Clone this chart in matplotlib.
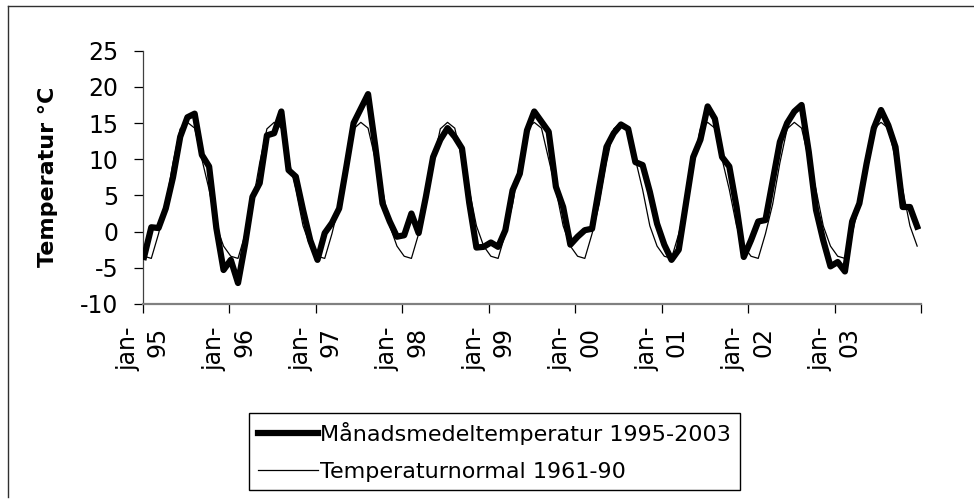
import numpy as np
import matplotlib
matplotlib.use("Agg")
import matplotlib.pyplot as plt
from matplotlib.lines import Line2D

plt.rcParams['font.family'] = ['DejaVu Sans']
plt.rcParams['axes.unicode_minus'] = False

years = ["95", "96", "97", "98", "99", "00", "01", "02", "03"]
month_label = "jan-"

t1995 = [-3.5, 0.6, 0.5, 3.2, 7.5, 13.1, 15.8, 16.3, 10.6, 9.0, 0.5, -5.3]
t1996 = [-3.9, -7.1, -1.6, 4.8, 6.7, 13.3, 13.6, 16.6, 8.5, 7.6, 3.0, -1.2]
t1997 = [-3.9, -0.2, 1.2, 3.2, 9.0, 15.0, 17.0, 19.0, 11.8, 3.9, 1.4, -0.7]
t1998 = [-0.5, 2.5, -0.2, 4.8, 10.3, 12.7, 14.3, 13.1, 11.5, 4.0, -2.2, -2.1]
t1999 = [-1.5, -2.1, 0.2, 5.7, 8.0, 14.0, 16.6, 15.2, 13.8, 6.2, 3.4, -1.8]
t2000 = [-0.7, 0.2, 0.4, 6.2, 11.7, 13.6, 14.8, 14.2, 9.6, 9.2, 5.5, 1.1]
t2001 = [-1.8, -3.9, -2.5, 3.9, 10.3, 12.7, 17.3, 15.6, 10.3, 9.0, 3.4, -3.5]
t2002 = [-1.2, 1.4, 1.6, 7.0, 12.4, 15.0, 16.6, 17.5, 11.0, 3.0, -1.2, -4.8]
t2003 = [-4.2, -5.5, 1.4, 3.9, 9.4, 14.3, 16.8, 14.7, 11.7, 3.4, 3.4, 0.7]

normal_1961_90 = [-3.4, -3.7, -0.3, 3.8, 9.5, 14.2, 15.1, 14.3, 10.0, 5.8, 0.8, -2.0]

label_monthly = "Månadsmedeltemperatur 1995-2003"
label_normal = "Temperaturnormal 1961-90"
ylabel = "Temperatur °C"

monthly = np.concatenate([t1995, t1996, t1997, t1998, t1999, t2000, t2001, t2002, t2003])
normal = np.tile(normal_1961_90, len(years))
x = np.arange(len(monthly))

W, H = 974, 503
fig = plt.figure(figsize=(W / 100, H / 100), dpi=100)
ax = fig.add_axes([143 / W, 1 - 304 / H, (921.5 - 143) / W, (304 - 50.7) / H])

ax.plot(x, monthly, color='black', lw=4.5, solid_joinstyle='round', label=label_monthly, zorder=3)
ax.plot(x, normal, color='black', lw=0.9, label=label_normal, zorder=4)

ax.set_ylim(-10, 25)
ax.set_yticks(np.arange(-10, 26, 5))
x0, x1 = -0.15, 107.6
ax.set_xlim(x0, x1)
ticks = np.linspace(x0, x1, len(years) + 1)
ax.set_xticks(ticks)
ax.set_xticklabels([month_label + "\n" + y for y in years] + [""], rotation=90,
                   ha='center', va='top', multialignment='right', linespacing=1.3)

for s in ['top', 'right']:
    ax.spines[s].set_visible(False)
ax.spines['bottom'].set_color('#808080')
ax.spines['bottom'].set_linewidth(1.6)
ax.spines['left'].set_color('#404040')
ax.spines['left'].set_linewidth(0.9)

ax.tick_params(axis='y', direction='out', length=6.5, width=0.9, color='black', pad=11, labelsize=17)
ax.tick_params(axis='x', direction='out', length=6.5, width=0.9, color='black', pad=10, labelsize=17)

fig.text(48.5 / W, 1 - 176.5 / H, ylabel, rotation=90, ha='center', va='center',
         fontsize=16, fontweight='bold')

leg = ax.legend(loc='upper left', bbox_to_anchor=(249 / W, 1 - 413 / H),
                bbox_transform=fig.transFigure, borderaxespad=0, fontsize=16,
                frameon=True, fancybox=False, shadow=False, framealpha=1,
                handlelength=2.7, handletextpad=0.1, borderpad=0.4, labelspacing=0.75)
leg.get_frame().set_edgecolor('black')
leg.get_frame().set_linewidth(1.0)

# chart-area border (left and top visible)
fig.add_artist(Line2D([8 / W, 8 / W], [1 - 497 / H, 1 - 6 / H], transform=fig.transFigure,
                      color='#303030', lw=1.0))
fig.add_artist(Line2D([8 / W, 1.0], [1 - 6 / H, 1 - 6 / H], transform=fig.transFigure,
                      color='#303030', lw=1.0))

fig.savefig("out.png", dpi=100)
